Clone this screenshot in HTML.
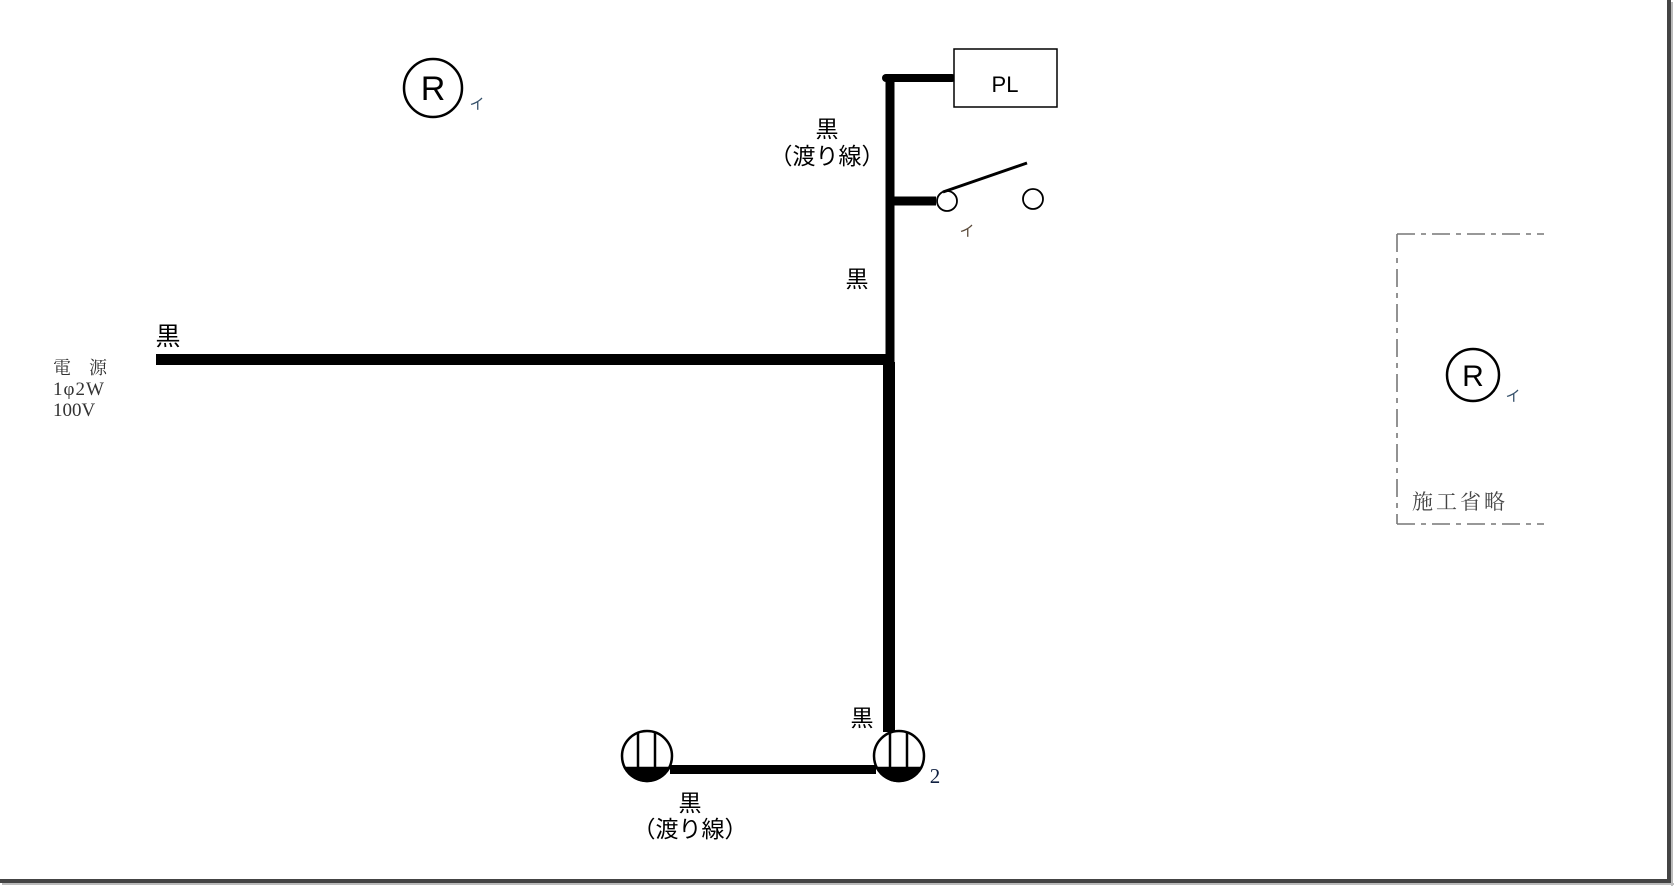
<!DOCTYPE html>
<html><head><meta charset="utf-8"><style>
html,body{margin:0;padding:0;background:#fff;}
svg{display:block;}
.g{font-family:"Liberation Sans","Noto Sans CJK JP",sans-serif;}
.s{font-family:"Liberation Serif","Noto Serif CJK SC",serif;}
</style></head><body>
<svg width="1674" height="886" viewBox="0 0 1674 886" xmlns="http://www.w3.org/2000/svg">
<rect width="1674" height="886" fill="#fff"/>
<line x1="1669" y1="0" x2="1669" y2="882" stroke="#444" stroke-width="4"/>
<line x1="0" y1="881" x2="1671" y2="881" stroke="#444" stroke-width="4"/>
<line x1="1672" y1="2" x2="1672" y2="886" stroke="#bbb" stroke-width="2"/>
<line x1="2" y1="884" x2="1674" y2="884" stroke="#bbb" stroke-width="2"/>

<line x1="156" y1="359.5" x2="894" y2="359.5" stroke="#000" stroke-width="11"/>
<line x1="890" y1="74" x2="890" y2="362" stroke="#000" stroke-width="9"/>
<line x1="889" y1="362" x2="889" y2="732" stroke="#000" stroke-width="12"/>
<line x1="886" y1="78" x2="952" y2="78" stroke="#000" stroke-width="8" stroke-linecap="round"/>
<line x1="886" y1="201" x2="936" y2="201" stroke="#000" stroke-width="9"/>

<rect x="954" y="49" width="103" height="58" fill="#fff" stroke="#000" stroke-width="1.5"/>
<text x="1005" y="92" class="g" font-size="22" text-anchor="middle">PL</text>

<circle cx="947" cy="201" r="10" fill="#fff" stroke="#000" stroke-width="1.8"/>
<circle cx="1033" cy="199" r="10" fill="#fff" stroke="#000" stroke-width="1.8"/>
<line x1="943" y1="192" x2="1027" y2="163" stroke="#000" stroke-width="3"/>
<text x="967" y="236" class="g" font-size="15" fill="#5a4a3a" text-anchor="middle">イ</text>

<text x="827" y="137" class="g" font-size="23" text-anchor="middle">黒</text>
<text x="827" y="164" class="g" font-size="23" text-anchor="middle">（渡り線）</text>
<text x="857" y="287" class="g" font-size="23" text-anchor="middle">黒</text>
<text x="168" y="345" class="g" font-size="25" text-anchor="middle">黒</text>
<text x="862" y="726" class="g" font-size="23" text-anchor="middle">黒</text>

<text x="53" y="374" class="s" font-size="18" fill="#333" xml:space="preserve">電　源</text>
<text x="53" y="395" class="s" font-size="19" fill="#333" letter-spacing="1">1φ2W</text>
<text x="53" y="416" class="s" font-size="19" fill="#333">100V</text>

<circle cx="433" cy="88" r="29" fill="#fff" stroke="#000" stroke-width="2.5"/>
<text x="433" y="100" class="g" font-size="34" text-anchor="middle">R</text>
<text x="477" y="109" class="g" font-size="15" fill="#35506a" text-anchor="middle">イ</text>

<line x1="670" y1="769.5" x2="876" y2="769.5" stroke="#000" stroke-width="9"/>
<g stroke="#000" stroke-width="2.5">
<circle cx="647" cy="756" r="25" fill="#fff"/>
<path d="M625.1 768 H668.9 A25 25 0 0 1 625.1 768 Z" fill="#000"/>
<line x1="638" y1="732" x2="638" y2="768"/>
<line x1="655" y1="732" x2="655" y2="768"/>
<circle cx="899" cy="756" r="25" fill="#fff"/>
<path d="M877.1 768 H920.9 A25 25 0 0 1 877.1 768 Z" fill="#000"/>
<line x1="890" y1="731" x2="890" y2="768"/>
<line x1="907" y1="732" x2="907" y2="768"/>
</g>
<text x="935" y="783" class="s" font-size="21" fill="#102040" text-anchor="middle">2</text>
<text x="690" y="811" class="g" font-size="23" text-anchor="middle">黒</text>
<text x="690" y="837" class="g" font-size="23" text-anchor="middle">（渡り線）</text>

<g stroke="#777" stroke-width="1.6" fill="none" stroke-dasharray="18,6,5,6">
<line x1="1397" y1="234" x2="1544" y2="234"/>
<line x1="1397" y1="234" x2="1397" y2="524"/>
<line x1="1397" y1="524" x2="1544" y2="524"/>
</g>
<circle cx="1473" cy="375" r="26" fill="#fff" stroke="#000" stroke-width="2.5"/>
<text x="1473" y="386" class="g" font-size="30" text-anchor="middle">R</text>
<text x="1513" y="401" class="g" font-size="15" fill="#35506a" text-anchor="middle">イ</text>
<text x="1412" y="509" class="s" font-size="21" fill="#444" letter-spacing="3">施工省略</text>
</svg>
</body></html>
